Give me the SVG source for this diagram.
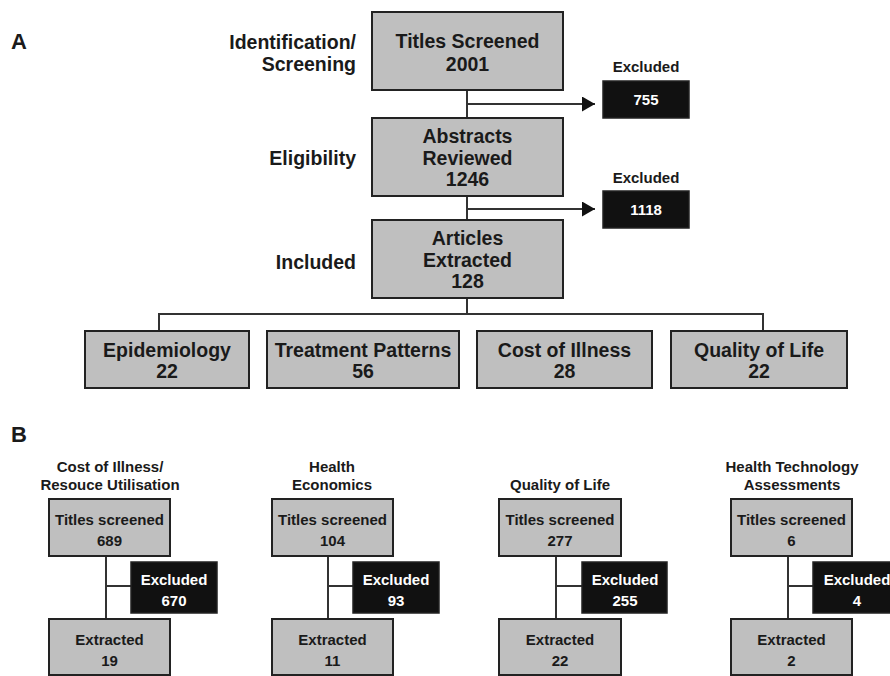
<svg xmlns="http://www.w3.org/2000/svg" width="890" height="676" viewBox="0 0 890 676">
<defs>
<style>
text{font-family:"Liberation Sans",Arial,sans-serif;font-weight:bold;fill:#1a1a1a}
.box{fill:#bfbfbf;stroke:#222;stroke-width:2}
.ex{fill:#111;stroke:#222;stroke-width:1.5}
.ln{stroke:#333;stroke-width:2;fill:none}
.big{font-size:19.5px;text-anchor:middle}
.lab{font-size:19.5px;text-anchor:end}
.sm{font-size:15px;text-anchor:middle}
.w{fill:#fff}
.panel{font-size:22px}
</style>
<marker id="ah" markerWidth="14" markerHeight="15" refX="13" refY="7.5" orient="auto" markerUnits="userSpaceOnUse">
<path d="M0,0 L13,7.5 L0,15 Z" fill="#111"/>
</marker>
</defs>
<rect width="890" height="676" fill="#fff"/>
<text class="panel" x="11" y="49">A</text>
<text class="panel" x="11" y="442">B</text>
<g id="stage-labels">
<text class="lab" x="356" y="49">Identification/</text>
<text class="lab" x="356" y="71">Screening</text>
<text class="lab" x="356" y="165">Eligibility</text>
<text class="lab" x="356" y="269">Included</text>
</g>
<g id="connectors">
<line class="ln" x1="467" y1="90" x2="467" y2="118"/>
<line class="ln" x1="467" y1="104" x2="595" y2="104" marker-end="url(#ah)"/>
<line class="ln" x1="467" y1="196" x2="467" y2="220"/>
<line class="ln" x1="467" y1="209" x2="595" y2="209" marker-end="url(#ah)"/>
<line class="ln" x1="467" y1="298" x2="467" y2="314"/>
<polyline class="ln" points="159,331 159,314 763,314 763,331"/>
<line class="ln" x1="106" y1="556" x2="106" y2="619"/>
<line class="ln" x1="106" y1="586" x2="131" y2="586"/>
<line class="ln" x1="328" y1="556" x2="328" y2="619"/>
<line class="ln" x1="328" y1="586" x2="353" y2="586"/>
<line class="ln" x1="556" y1="556" x2="556" y2="619"/>
<line class="ln" x1="556" y1="586" x2="582" y2="586"/>
<line class="ln" x1="788" y1="556" x2="788" y2="619"/>
<line class="ln" x1="788" y1="586" x2="813" y2="586"/>
</g>
<g id="titles-screened">
<rect class="box" x="372" y="12" width="191" height="78"/>
<text class="big" x="467.5" y="48">Titles Screened</text>
<text class="big" x="467.5" y="71">2001</text>
</g>
<g id="excluded-1">
<text class="sm" x="646" y="72">Excluded</text>
<rect class="ex" x="603" y="81" width="86" height="37"/>
<text class="sm w" x="646" y="105">755</text>
</g>
<g id="abstracts-reviewed">
<rect class="box" x="372" y="118" width="191" height="78"/>
<text class="big" x="467.5" y="143">Abstracts</text>
<text class="big" x="467.5" y="165">Reviewed</text>
<text class="big" x="467.5" y="186">1246</text>
</g>
<g id="excluded-2">
<text class="sm" x="646" y="183">Excluded</text>
<rect class="ex" x="603" y="191" width="86" height="37"/>
<text class="sm w" x="646" y="215">1118</text>
</g>
<g id="articles-extracted">
<rect class="box" x="372" y="220" width="191" height="78"/>
<text class="big" x="467.5" y="245">Articles</text>
<text class="big" x="467.5" y="267">Extracted</text>
<text class="big" x="467.5" y="288">128</text>
</g>
<g id="epidemiology">
<rect class="box" x="85" y="331" width="164" height="57"/>
<text class="big" x="167" y="357">Epidemiology</text>
<text class="big" x="167" y="378">22</text>
</g>
<g id="treatment-patterns">
<rect class="box" x="267" y="331" width="192" height="57"/>
<text class="big" x="363" y="357">Treatment Patterns</text>
<text class="big" x="363" y="378">56</text>
</g>
<g id="cost-of-illness">
<rect class="box" x="477" y="331" width="175" height="57"/>
<text class="big" x="564.5" y="357">Cost of Illness</text>
<text class="big" x="564.5" y="378">28</text>
</g>
<g id="quality-of-life">
<rect class="box" x="671" y="331" width="176" height="57"/>
<text class="big" x="759" y="357">Quality of Life</text>
<text class="big" x="759" y="378">22</text>
</g>
<g id="b1">
<text class="sm" x="110" y="472">Cost of Illness/</text>
<text class="sm" x="110" y="490">Resouce Utilisation</text>
<rect class="box" x="49" y="499" width="121" height="57"/>
<text class="sm" x="109.5" y="525">Titles screened</text>
<text class="sm" x="109.5" y="546">689</text>
<rect class="ex" x="131" y="562" width="86" height="51"/>
<text class="sm w" x="174" y="585">Excluded</text>
<text class="sm w" x="174" y="606">670</text>
<rect class="box" x="49" y="619" width="121" height="56"/>
<text class="sm" x="109.5" y="645">Extracted</text>
<text class="sm" x="109.5" y="666">19</text>
</g>
<g id="b2">
<text class="sm" x="332" y="472">Health</text>
<text class="sm" x="332" y="490">Economics</text>
<rect class="box" x="272" y="499" width="121" height="57"/>
<text class="sm" x="332.5" y="525">Titles screened</text>
<text class="sm" x="332.5" y="546">104</text>
<rect class="ex" x="353" y="562" width="86" height="51"/>
<text class="sm w" x="396" y="585">Excluded</text>
<text class="sm w" x="396" y="606">93</text>
<rect class="box" x="272" y="619" width="121" height="56"/>
<text class="sm" x="332.5" y="645">Extracted</text>
<text class="sm" x="332.5" y="666">11</text>
</g>
<g id="b3">
<text class="sm" x="560" y="490">Quality of Life</text>
<rect class="box" x="499" y="499" width="122" height="57"/>
<text class="sm" x="560" y="525">Titles screened</text>
<text class="sm" x="560" y="546">277</text>
<rect class="ex" x="582" y="562" width="85" height="51"/>
<text class="sm w" x="625" y="585">Excluded</text>
<text class="sm w" x="625" y="606">255</text>
<rect class="box" x="499" y="619" width="122" height="56"/>
<text class="sm" x="560" y="645">Extracted</text>
<text class="sm" x="560" y="666">22</text>
</g>
<g id="b4">
<text class="sm" x="792" y="472">Health Technology</text>
<text class="sm" x="792" y="490">Assessments</text>
<rect class="box" x="731" y="499" width="121" height="57"/>
<text class="sm" x="791.5" y="525">Titles screened</text>
<text class="sm" x="791.5" y="546">6</text>
<rect class="ex" x="813" y="562" width="86" height="51"/>
<text class="sm w" x="857" y="585">Excluded</text>
<text class="sm w" x="857" y="606">4</text>
<rect class="box" x="731" y="619" width="121" height="56"/>
<text class="sm" x="791.5" y="645">Extracted</text>
<text class="sm" x="791.5" y="666">2</text>
</g>
</svg>
